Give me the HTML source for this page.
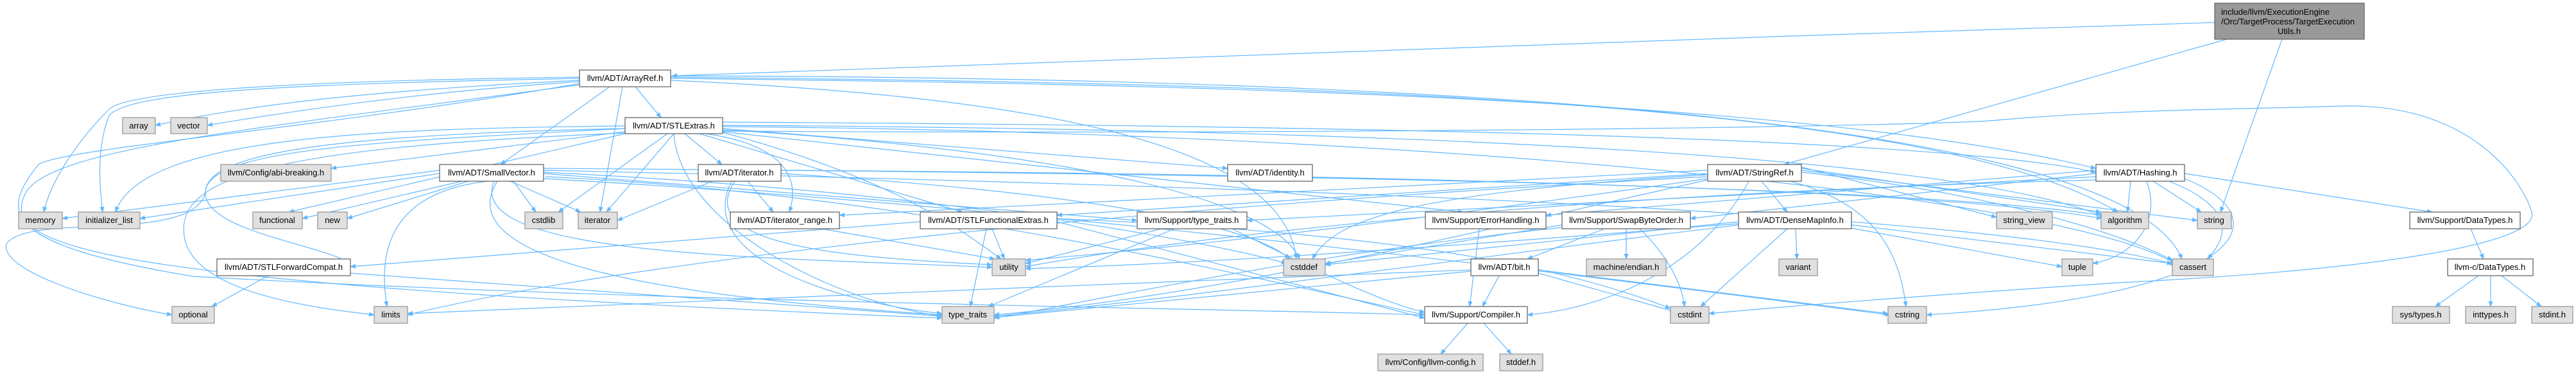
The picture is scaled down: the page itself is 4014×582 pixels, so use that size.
<!DOCTYPE html>
<html><head><meta charset="utf-8"><style>
html,body{margin:0;padding:0;background:#fff;}
svg{display:block;}
text{font-family:"Liberation Sans",Arial,sans-serif;font-size:13px;fill:#000;}
.e{fill:none;stroke:#63b8ff;stroke-width:1.2;marker-end:url(#a);}
.w{fill:#fff;stroke:#666;stroke-width:1.3;}
.g{fill:#e0e0e0;stroke:#999;stroke-width:1.3;}
.t{fill:#999;stroke:#666;stroke-width:1.3;}
</style></head><body>
<svg width="4014" height="582" viewBox="0 0 4014 582" xmlns="http://www.w3.org/2000/svg">
<defs><marker id="a" viewBox="0 0 10 10" refX="9" refY="5" markerWidth="9" markerHeight="9" markerUnits="userSpaceOnUse" orient="auto"><path d="M0,1 L10,5 L0,9 z" fill="#63b8ff"/></marker></defs>
<g>
<path class="e" d="M3451,35 C2600,60 1600,100 1047,118"/>
<path class="e" d="M3470,61 L2780,256"/>
<path class="e" d="M3556,61 L3460,330"/>
<path class="e" d="M950,135 L780,256"/>
<path class="e" d="M990,135 L1030,183"/>
<path class="e" d="M903,125 C600,140 400,160 242,195"/>
<path class="e" d="M903,127 C700,140 500,165 323,195"/>
<path class="e" d="M903,120 C500,125 200,140 170,170 C120,220 80,280 68,330"/>
<path class="e" d="M903,122 C500,130 200,140 170,180 C150,230 155,290 160,330"/>
<path class="e" d="M970,135 L935,330"/>
<path class="e" d="M1045,122 C1800,130 2800,150 3266,262"/>
<path class="e" d="M903,130 C500,200 100,230 60,256 C0,330 0,380 300,430 C1000,470 1900,480 2220,490"/>
<path class="e" d="M1045,120 C2000,130 3000,150 3300,330"/>
<path class="e" d="M1045,118 C2000,120 3300,160 3400,403"/>
<path class="e" d="M1045,125 C1600,150 2000,220 2020,403"/>
<path class="e" d="M903,132 C400,200 80,230 40,300 C0,380 100,440 1468,495"/>
<path class="e" d="M974,200 C600,220 320,230 320,300 C320,360 500,380 546,410"/>
<path class="e" d="M1090,208 L1500,330"/>
<path class="e" d="M974,205 L516,262"/>
<path class="e" d="M1126,190 C2000,195 3000,210 3266,268"/>
<path class="e" d="M1126,200 L1913,262"/>
<path class="e" d="M1067,208 L1125,256"/>
<path class="e" d="M1100,208 C1250,230 1240,300 1230,330"/>
<path class="e" d="M1126,205 L2280,330"/>
<path class="e" d="M1126,195 C2000,200 3000,230 3274,335"/>
<path class="e" d="M1126,197 C2200,205 3200,300 3390,410"/>
<path class="e" d="M1126,202 C1600,230 1980,300 2025,403"/>
<path class="e" d="M1040,208 L870,330"/>
<path class="e" d="M974,208 L450,330"/>
<path class="e" d="M974,196 C600,200 220,210 180,330"/>
<path class="e" d="M1050,208 L945,330"/>
<path class="e" d="M974,207 C400,230 260,280 290,380 C320,460 500,480 583,490"/>
<path class="e" d="M974,200 C500,210 320,240 320,300 C300,380 40,330 10,380 C0,420 150,470 268,490"/>
<path class="e" d="M1050,208 C1060,350 1300,470 1468,492"/>
<path class="e" d="M1126,206 C1400,280 1500,360 1560,403"/>
<path class="e" d="M1126,204 C2200,210 3000,195 3100,188 C3300,170 3500,170 3650,165 C3850,160 3930,280 3945,330 C3960,380 3700,420 3300,440 C3000,460 2800,475 2663,488"/>
<path class="e" d="M850,275 C1400,300 1900,420 2220,490"/>
<path class="e" d="M847,270 L1772,343"/>
<path class="e" d="M847,262 C2000,270 3000,290 3280,336"/>
<path class="e" d="M847,265 C2000,290 3100,330 3390,412"/>
<path class="e" d="M847,268 C1500,300 1900,380 2005,410"/>
<path class="e" d="M800,282 L835,330"/>
<path class="e" d="M847,278 C1600,320 2400,420 2945,490"/>
<path class="e" d="M720,282 L471,340"/>
<path class="e" d="M685,270 L218,340"/>
<path class="e" d="M795,282 L905,330"/>
<path class="e" d="M760,282 C600,300 590,400 603,477"/>
<path class="e" d="M685,265 L97,340"/>
<path class="e" d="M730,282 L541,340"/>
<path class="e" d="M775,282 C700,400 1000,460 1468,490"/>
<path class="e" d="M770,282 C720,400 1200,400 1546,416"/>
<path class="e" d="M1165,282 L1205,330"/>
<path class="e" d="M1217,265 C2000,270 3000,290 3275,340"/>
<path class="e" d="M1217,270 C1700,300 1950,350 2010,403"/>
<path class="e" d="M1110,282 L962,343"/>
<path class="e" d="M1140,282 C1080,400 1300,470 1468,488"/>
<path class="e" d="M1145,282 C1080,380 1300,400 1546,412"/>
<path class="e" d="M1280,356 L1550,403"/>
<path class="e" d="M1434,345 L546,415"/>
<path class="e" d="M1647,345 L2220,495"/>
<path class="e" d="M1647,340 C2100,360 2400,400 2603,480"/>
<path class="e" d="M1537,356 L1512,477"/>
<path class="e" d="M1546,356 L1565,403"/>
<path class="e" d="M418,429 L330,477"/>
<path class="e" d="M546,425 L1468,492"/>
<path class="e" d="M1920,356 C2050,420 2150,470 2220,486"/>
<path class="e" d="M1830,356 L1540,477"/>
<path class="e" d="M1810,356 L1598,410"/>
<path class="e" d="M2745,282 L2785,330"/>
<path class="e" d="M2661,270 L1647,335"/>
<path class="e" d="M2661,265 L1308,335"/>
<path class="e" d="M2725,282 C2650,420 2500,480 2380,490"/>
<path class="e" d="M2807,262 L3274,330"/>
<path class="e" d="M2807,268 C3100,300 3300,360 3385,405"/>
<path class="e" d="M2661,272 C2200,300 2080,340 2045,403"/>
<path class="e" d="M2790,282 C2930,320 2960,400 2970,477"/>
<path class="e" d="M2661,275 C1800,320 1000,400 635,490"/>
<path class="e" d="M2807,265 L3424,343"/>
<path class="e" d="M2807,260 L3111,338"/>
<path class="e" d="M2661,280 C2300,360 1900,460 1549,490"/>
<path class="e" d="M2661,278 C2300,330 1900,380 1598,405"/>
<path class="e" d="M3266,265 L2409,335"/>
<path class="e" d="M3404,270 L3790,330"/>
<path class="e" d="M3266,270 L2634,340"/>
<path class="e" d="M3266,275 L1943,343"/>
<path class="e" d="M3320,282 L3315,330"/>
<path class="e" d="M3380,282 C3500,330 3460,380 3440,403"/>
<path class="e" d="M3404,278 C3560,340 3500,460 3002,490"/>
<path class="e" d="M3355,282 L3430,330"/>
<path class="e" d="M3345,282 C3370,350 3320,400 3261,410"/>
<path class="e" d="M3266,280 C2500,300 1900,360 1598,415"/>
<path class="e" d="M2305,356 L2290,477"/>
<path class="e" d="M2500,356 L2380,403"/>
<path class="e" d="M2434,350 L2065,410"/>
<path class="e" d="M2555,356 C2600,400 2620,440 2625,477"/>
<path class="e" d="M2434,354 C2000,400 1700,470 1549,495"/>
<path class="e" d="M2534,356 L2534,403"/>
<path class="e" d="M2885,350 L3385,410"/>
<path class="e" d="M2709,345 L2065,412"/>
<path class="e" d="M2785,356 L2650,477"/>
<path class="e" d="M2885,355 L3213,415"/>
<path class="e" d="M2709,350 C2300,400 1800,470 1549,492"/>
<path class="e" d="M2709,348 C2300,380 1900,410 1598,418"/>
<path class="e" d="M2798,356 L2800,403"/>
<path class="e" d="M2336,429 L2310,477"/>
<path class="e" d="M2397,425 L2610,485"/>
<path class="e" d="M2397,420 L2942,488"/>
<path class="e" d="M2292,420 C1800,440 1000,470 635,488"/>
<path class="e" d="M2292,422 C2000,450 1700,480 1549,494"/>
<path class="e" d="M2287,503 L2245,551"/>
<path class="e" d="M2312,503 L2355,551"/>
<path class="e" d="M3850,356 L3870,403"/>
<path class="e" d="M3862,429 L3795,477"/>
<path class="e" d="M3881,429 L3881,477"/>
<path class="e" d="M3898,429 L3960,477"/>
</g>
<g>
<rect class="t" x="3451" y="5" width="233" height="56"/>
<text x="3461" y="23">include/llvm/ExecutionEngine</text>
<text x="3461" y="38">/Orc/TargetProcess/TargetExecution</text>
<text x="3567" y="53" text-anchor="middle">Utils.h</text>

<rect class="w" x="903" y="109" width="142" height="26"/><text x="974" y="126" text-anchor="middle">llvm/ADT/ArrayRef.h</text>
<rect class="g" x="191" y="183" width="51" height="25"/><text x="216" y="200" text-anchor="middle">array</text>
<rect class="g" x="266" y="183" width="57" height="25"/><text x="294" y="200" text-anchor="middle">vector</text>
<rect class="w" x="974" y="183" width="152" height="25"/><text x="1050" y="200" text-anchor="middle">llvm/ADT/STLExtras.h</text>

<rect class="g" x="344" y="256" width="172" height="26"/><text x="430" y="273" text-anchor="middle">llvm/Config/abi-breaking.h</text>
<rect class="w" x="685" y="256" width="162" height="26"/><text x="766" y="273" text-anchor="middle">llvm/ADT/SmallVector.h</text>
<rect class="w" x="1088" y="256" width="129" height="26"/><text x="1152" y="273" text-anchor="middle">llvm/ADT/iterator.h</text>
<rect class="w" x="1913" y="256" width="132" height="26"/><text x="1979" y="273" text-anchor="middle">llvm/ADT/identity.h</text>
<rect class="w" x="2661" y="256" width="146" height="26"/><text x="2734" y="273" text-anchor="middle">llvm/ADT/StringRef.h</text>
<rect class="w" x="3266" y="256" width="138" height="26"/><text x="3335" y="273" text-anchor="middle">llvm/ADT/Hashing.h</text>

<rect class="g" x="29" y="330" width="68" height="26"/><text x="63" y="347" text-anchor="middle">memory</text>
<rect class="g" x="122" y="330" width="96" height="26"/><text x="170" y="347" text-anchor="middle">initializer_list</text>
<rect class="g" x="394" y="330" width="77" height="26"/><text x="432" y="347" text-anchor="middle">functional</text>
<rect class="g" x="495" y="330" width="46" height="26"/><text x="518" y="347" text-anchor="middle">new</text>
<rect class="g" x="818" y="330" width="59" height="26"/><text x="847" y="347" text-anchor="middle">cstdlib</text>
<rect class="g" x="901" y="330" width="61" height="26"/><text x="931" y="347" text-anchor="middle">iterator</text>
<rect class="w" x="1138" y="330" width="170" height="26"/><text x="1223" y="347" text-anchor="middle">llvm/ADT/iterator_range.h</text>
<rect class="w" x="1434" y="330" width="213" height="26"/><text x="1540" y="347" text-anchor="middle">llvm/ADT/STLFunctionalExtras.h</text>
<rect class="w" x="1772" y="330" width="171" height="26"/><text x="1857" y="347" text-anchor="middle">llvm/Support/type_traits.h</text>
<rect class="w" x="2221" y="330" width="188" height="26"/><text x="2315" y="347" text-anchor="middle">llvm/Support/ErrorHandling.h</text>
<rect class="w" x="2434" y="330" width="200" height="26"/><text x="2534" y="347" text-anchor="middle">llvm/Support/SwapByteOrder.h</text>
<rect class="w" x="2709" y="330" width="176" height="26"/><text x="2797" y="347" text-anchor="middle">llvm/ADT/DenseMapInfo.h</text>
<rect class="g" x="3111" y="330" width="87" height="26"/><text x="3154" y="347" text-anchor="middle">string_view</text>
<rect class="g" x="3274" y="330" width="74" height="26"/><text x="3311" y="347" text-anchor="middle">algorithm</text>
<rect class="g" x="3424" y="330" width="53" height="26"/><text x="3450" y="347" text-anchor="middle">string</text>
<rect class="w" x="3755" y="330" width="172" height="26"/><text x="3841" y="347" text-anchor="middle">llvm/Support/DataTypes.h</text>

<rect class="w" x="338" y="403" width="208" height="26"/><text x="442" y="420" text-anchor="middle">llvm/ADT/STLForwardCompat.h</text>
<rect class="g" x="1546" y="403" width="52" height="26"/><text x="1572" y="420" text-anchor="middle">utility</text>
<rect class="g" x="2000" y="403" width="65" height="26"/><text x="2032" y="420" text-anchor="middle">cstddef</text>
<rect class="w" x="2292" y="403" width="105" height="26"/><text x="2344" y="420" text-anchor="middle">llvm/ADT/bit.h</text>
<rect class="g" x="2472" y="403" width="124" height="26"/><text x="2534" y="420" text-anchor="middle">machine/endian.h</text>
<rect class="g" x="2772" y="403" width="60" height="26"/><text x="2802" y="420" text-anchor="middle">variant</text>
<rect class="g" x="3213" y="403" width="48" height="26"/><text x="3237" y="420" text-anchor="middle">tuple</text>
<rect class="g" x="3385" y="403" width="64" height="26"/><text x="3417" y="420" text-anchor="middle">cassert</text>
<rect class="w" x="3814" y="403" width="133" height="26"/><text x="3880" y="420" text-anchor="middle">llvm-c/DataTypes.h</text>

<rect class="g" x="268" y="477" width="66" height="26"/><text x="301" y="494" text-anchor="middle">optional</text>
<rect class="g" x="583" y="477" width="52" height="26"/><text x="609" y="494" text-anchor="middle">limits</text>
<rect class="g" x="1468" y="477" width="81" height="26"/><text x="1508" y="494" text-anchor="middle">type_traits</text>
<rect class="w" x="2220" y="477" width="160" height="26"/><text x="2300" y="494" text-anchor="middle">llvm/Support/Compiler.h</text>
<rect class="g" x="2603" y="477" width="60" height="26"/><text x="2633" y="494" text-anchor="middle">cstdint</text>
<rect class="g" x="2942" y="477" width="60" height="26"/><text x="2972" y="494" text-anchor="middle">cstring</text>
<rect class="g" x="3728" y="477" width="89" height="26"/><text x="3772" y="494" text-anchor="middle">sys/types.h</text>
<rect class="g" x="3842" y="477" width="78" height="26"/><text x="3881" y="494" text-anchor="middle">inttypes.h</text>
<rect class="g" x="3945" y="477" width="64" height="26"/><text x="3977" y="494" text-anchor="middle">stdint.h</text>

<rect class="g" x="2147" y="551" width="164" height="26"/><text x="2229" y="568" text-anchor="middle">llvm/Config/llvm-config.h</text>
<rect class="g" x="2337" y="551" width="67" height="26"/><text x="2370" y="568" text-anchor="middle">stddef.h</text>
</g>
</svg>
</body></html>
